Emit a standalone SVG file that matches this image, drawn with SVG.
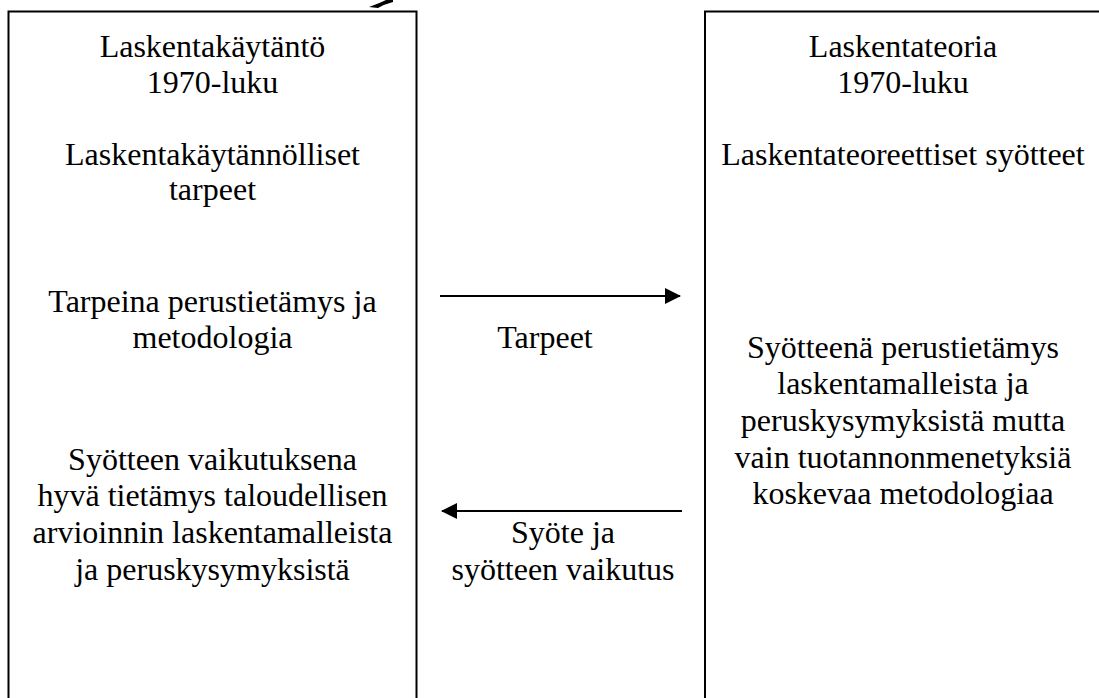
<svg xmlns="http://www.w3.org/2000/svg" width="1099" height="698" viewBox="0 0 1099 698">
  <style>
    .box { fill: #ffffff; stroke: #000000; stroke-width: 2; }
    .t { font-size: 32px; fill: #000000; text-anchor: middle; }
    .conn { stroke: #000000; stroke-width: 2; fill: none; }
  </style>
  <defs>
    <marker id="head" viewBox="0 0 16 16" refX="15" refY="8" markerWidth="16" markerHeight="16" markerUnits="userSpaceOnUse" orient="auto">
      <path d="M0,0 L16,8 L0,16 Z" fill="#000000"/>
    </marker>
  </defs>

  <rect width="1099" height="698" fill="#ffffff"/>

  <!-- tip of a curved arrow entering from above -->
  <path d="M393,0 L386,0 Q380,3 369,7 L378,8 Q385,4 393,2 Z" fill="#000000"/>

  <g font-family="Liberation Serif, Tinos, DejaVu Serif, serif">
    <g id="practice">
      <rect class="box" x="8.5" y="11.5" width="408" height="700"/>
      <text class="t" x="212.5" y="57">Laskentakäytäntö</text>
      <text class="t" x="212.5" y="93">1970-luku</text>
      <text class="t" x="212.5" y="165">Laskentakäytännölliset</text>
      <text class="t" x="212.5" y="200">tarpeet</text>
      <text class="t" x="212.5" y="312">Tarpeina perustietämys ja</text>
      <text class="t" x="212.5" y="348">metodologia</text>
      <text class="t" x="212.5" y="470">Syötteen vaikutuksena</text>
      <text class="t" x="212.5" y="506">hyvä tietämys taloudellisen</text>
      <text class="t" x="212.5" y="543">arvioinnin laskentamalleista</text>
      <text class="t" x="212.5" y="580">ja peruskysymyksistä</text>
    </g>

    <g id="theory">
      <rect class="box" x="705" y="11.5" width="400" height="700"/>
      <text class="t" x="903" y="57">Laskentateoria</text>
      <text class="t" x="903" y="93">1970-luku</text>
      <text class="t" x="903" y="165">Laskentateoreettiset syötteet</text>
      <text class="t" x="903" y="358">Syötteenä perustietämys</text>
      <text class="t" x="903" y="394">laskentamalleista ja</text>
      <text class="t" x="903" y="431">peruskysymyksistä mutta</text>
      <text class="t" x="903" y="468">vain tuotannonmenetyksiä</text>
      <text class="t" x="903" y="504">koskevaa metodologiaa</text>
    </g>

    <g id="connectors">
      <line class="conn" x1="440" y1="296" x2="680" y2="296" marker-end="url(#head)"/>
      <text class="t" x="545" y="348">Tarpeet</text>
      <line class="conn" x1="682" y1="511" x2="442" y2="511" marker-end="url(#head)"/>
      <text class="t" x="563" y="543">Syöte ja</text>
      <text class="t" x="563" y="580">syötteen vaikutus</text>
    </g>
  </g>
</svg>
